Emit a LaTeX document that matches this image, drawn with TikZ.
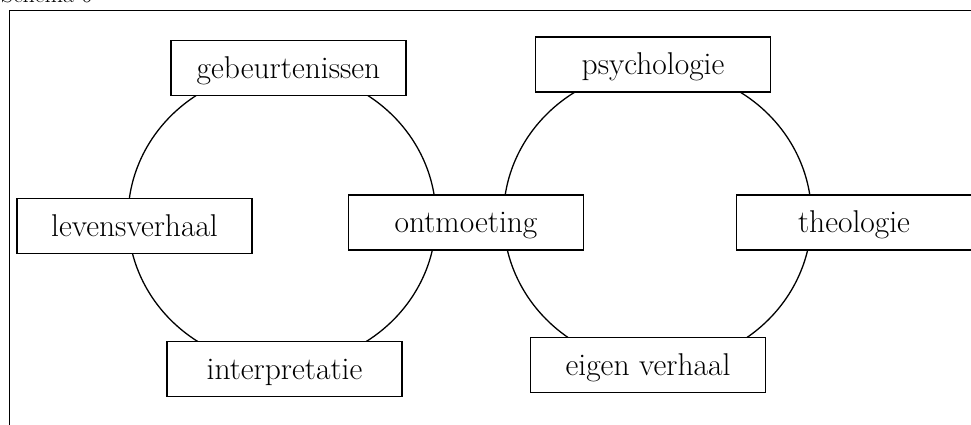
\documentclass[tikz,border=0pt]{standalone}
\begin{document}
\begin{tikzpicture}[x=1pt,y=-1pt,
  box/.style={draw=black,line width=1.6pt,fill=white,rectangle,inner sep=0pt,
    minimum width=235pt,minimum height=55pt,text height=22pt,text depth=1.5pt,
    font=\fontsize{31.5}{34}\selectfont},
  ring/.style={draw=black,line width=1.3pt}]
\useasboundingbox (0,0) rectangle (971,424);
% title, mostly cut off at the top edge
\node[anchor=base west,inner sep=0pt,font=\fontsize{24}{26}\selectfont] (title) at (1,2.5) {Schema 6};
% frame
\coordinate (f1) at (9.5,440);
\coordinate (f2) at (9.5,10.5);
\coordinate (f3) at (990,10.5);
\draw[line width=1.8pt] (f1) -- (f2) -- (f3);
% ellipses
\coordinate (cl) at (282,218);
\coordinate (cr) at (657.5,217);
\draw[ring] (cl) ellipse [x radius=154, y radius=147.5];
\draw[ring] (cr) ellipse [x radius=154, y radius=148];
% boxes
\node[box] (geb) at (288.5,68) {gebeurtenissen};
\node[box] (psy) at (653,64.5) {psychologie};
\node[box] (lev) at (134.5,226) {levensverhaal};
\node[box] (ont) at (466,222.5) {ontmoeting};
\node[box] (the) at (854,222.5) {theologie};
\node[box] (int) at (284.5,369) {interpretatie};
\node[box] (eig) at (648,365) {eigen verhaal};
\end{tikzpicture}
\end{document}
